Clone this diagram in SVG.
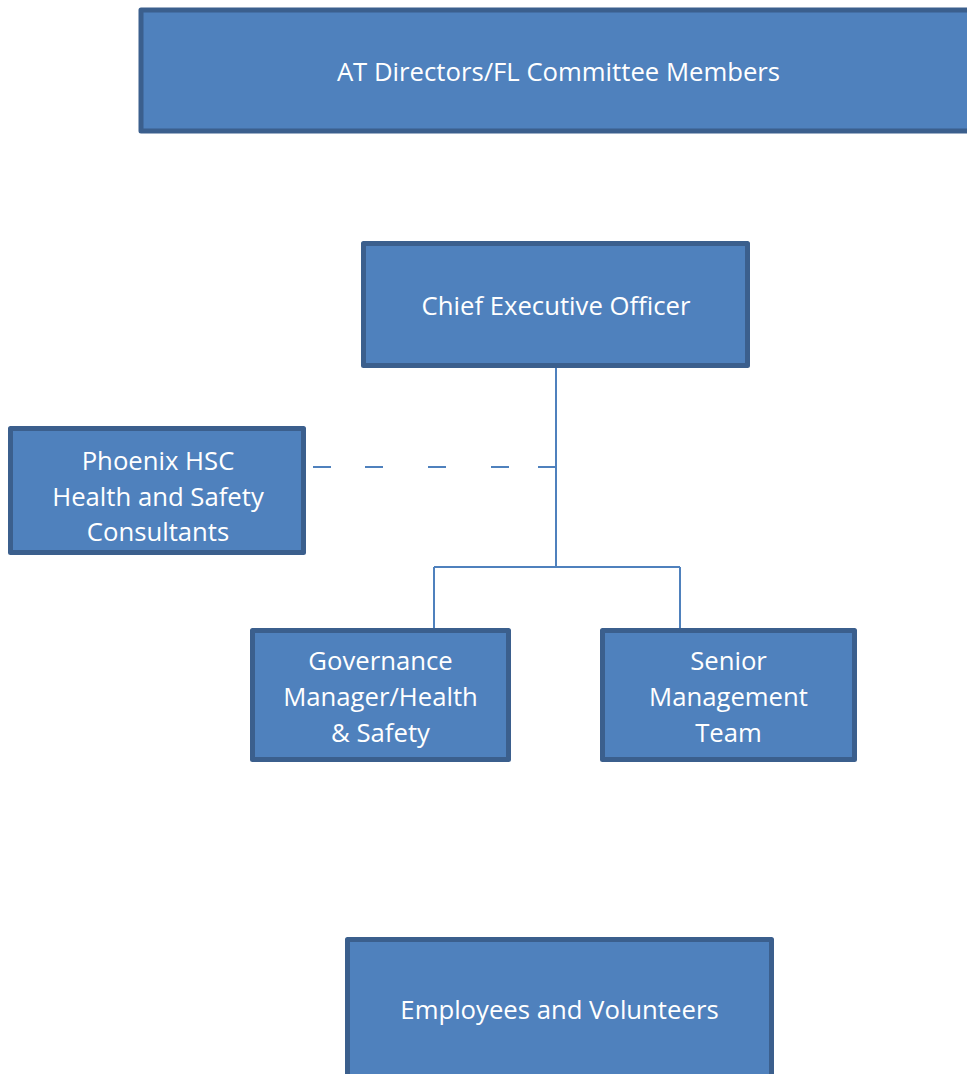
<svg xmlns="http://www.w3.org/2000/svg" width="967" height="1074" viewBox="0 0 967 1074">
<style>
.box{fill:#4f81bd;stroke:#3b5f8d;stroke-width:5;stroke-linejoin:round}
.t{fill:#ffffff;font-family:"Open Sans","Liberation Sans",sans-serif;font-size:25.7px;text-anchor:middle}
.c{fill:none;stroke:#4f81bd;stroke-width:2}
</style>
<rect width="967" height="1074" fill="#ffffff"/>
<g id="connectors">
<path class="c" d="M556 368 V567 M434 567 H680 M434 567 V628 M680 567 V628"/>
<path class="c" d="M313 467 H331 M365 467 H383 M428 467 H446 M491 467 H509 M538 467 H556"/>
</g>
<g id="at-directors">
<rect class="box" x="141" y="10" width="840" height="121"/>
<text class="t" x="558.5" y="81">AT Directors/FL Committee Members</text>
</g>
<g id="ceo">
<rect class="box" x="363.5" y="243.5" width="384" height="122"/>
<text class="t" x="556" y="315">Chief Executive Officer</text>
</g>
<g id="phoenix">
<rect class="box" x="10.5" y="428.5" width="293" height="124"/>
<text class="t" x="158" y="470">Phoenix HSC</text>
<text class="t" x="158" y="506">Health and Safety</text>
<text class="t" x="158" y="541">Consultants</text>
</g>
<g id="governance">
<rect class="box" x="252.5" y="630.5" width="256" height="129"/>
<text class="t" x="380.5" y="670">Governance</text>
<text class="t" x="380.5" y="706">Manager/Health</text>
<text class="t" x="380.5" y="742">&amp; Safety</text>
</g>
<g id="senior">
<rect class="box" x="602.5" y="630.5" width="252" height="129"/>
<text class="t" x="728.5" y="670">Senior</text>
<text class="t" x="728.5" y="706">Management</text>
<text class="t" x="728.5" y="742">Team</text>
</g>
<g id="employees">
<rect class="box" x="347.5" y="939.5" width="424" height="150"/>
<text class="t" x="559.5" y="1019">Employees and Volunteers</text>
</g>
</svg>
